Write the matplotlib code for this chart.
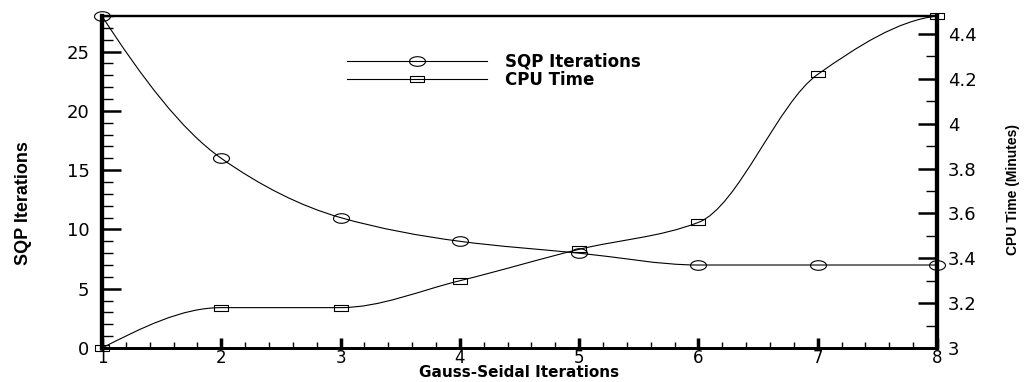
import numpy as np
import matplotlib
matplotlib.use("Agg")
import matplotlib.pyplot as plt
from matplotlib import font_manager
from matplotlib.path import Path
from matplotlib.patches import PathPatch
from matplotlib.lines import Line2D
from matplotlib.ticker import MultipleLocator

plt.rcParams['font.family'] = ['DejaVu Sans']
installed = {f.name for f in font_manager.fontManager.ttflist}
narrow = 'Liberation Sans Narrow' if 'Liberation Sans Narrow' in installed else 'Liberation Sans'

gs_iters = [1, 2, 3, 4, 5, 6, 7, 8]
sqp_iters = [28, 16, 11, 9, 8, 7, 7, 7]
cpu_time = [3.0, 3.18, 3.18, 3.30, 3.44, 3.56, 4.22, 4.48]


def pchip_slopes(x, y):
    h = np.diff(x)
    d = np.diff(y) / h
    m = np.zeros(len(x))
    for k in range(1, len(x) - 1):
        if d[k - 1] * d[k] > 0:
            w1 = 2 * h[k] + h[k - 1]
            w2 = h[k] + 2 * h[k - 1]
            m[k] = (w1 + w2) / (w1 / d[k - 1] + w2 / d[k])

    def edge(h0, h1, d0, d1):
        s = ((2 * h0 + h1) * d0 - h0 * d1) / (h0 + h1)
        if np.sign(s) != np.sign(d0):
            return 0.0
        if np.sign(d0) != np.sign(d1) and abs(s) > abs(3 * d0):
            return 3 * d0
        return s

    m[0] = edge(h[0], h[1], d[0], d[1])
    m[-1] = edge(h[-1], h[-2], d[-1], d[-2])
    return m


def smooth_path(x, y):
    # monotone cubic through the points, as bezier segments
    x = np.asarray(x, float)
    y = np.asarray(y, float)
    m = pchip_slopes(x, y)
    verts = [(x[0], y[0])]
    codes = [Path.MOVETO]
    for i in range(len(x) - 1):
        h = x[i + 1] - x[i]
        verts += [(x[i] + h / 3, y[i] + m[i] * h / 3),
                  (x[i + 1] - h / 3, y[i + 1] - m[i + 1] * h / 3),
                  (x[i + 1], y[i + 1])]
        codes += [Path.CURVE4] * 3
    return Path(verts, codes)


t = np.linspace(0, 2 * np.pi, 40)
ellipse = Path(np.column_stack([np.cos(t), 0.6 * np.sin(t)]), closed=True)
rect = Path([(-1, -0.5), (1, -0.5), (1, 0.5), (-1, 0.5), (-1, -0.5)], closed=True)
circ_ms, sq_ms = 11.5, 9.5

fig = plt.figure(figsize=(10.29, 3.82), dpi=100)
ax = fig.add_axes([0.0991, 0.089, 0.8115, 0.869])
ax2 = ax.twinx()

ax.add_patch(PathPatch(smooth_path(gs_iters, sqp_iters), fc='none', ec='black', lw=0.8))
ax.plot(gs_iters, sqp_iters, ls='none', marker=ellipse, ms=circ_ms, mfc='none',
        mec='black', mew=0.8, clip_on=False, zorder=5)
ax2.add_patch(PathPatch(smooth_path(gs_iters, cpu_time), fc='none', ec='black', lw=0.8))
ax2.plot(gs_iters, cpu_time, ls='none', marker=rect, ms=sq_ms, mfc='none',
         mec='black', mew=0.8, clip_on=False, zorder=5)

ax.set_xlim(1, 8)
ax.set_ylim(0, 28)
ax2.set_ylim(3, 4.48)

ax.xaxis.set_major_locator(MultipleLocator(1))
ax.xaxis.set_minor_locator(MultipleLocator(0.2))
ax.yaxis.set_major_locator(MultipleLocator(5))
ax.yaxis.set_minor_locator(MultipleLocator(1))
ax2.yaxis.set_major_locator(MultipleLocator(0.2))
ax2.yaxis.set_minor_locator(MultipleLocator(0.1))
ax2.yaxis.set_major_formatter(lambda v, p: f'{v:g}')

ax.tick_params(axis='x', which='major', direction='in', length=7, width=2.5, labelsize=12, pad=1)
ax.tick_params(axis='x', which='minor', direction='in', length=4, width=1)
ax.tick_params(axis='y', which='major', direction='in', length=14, width=1.8, labelsize=13, pad=9)
ax.tick_params(axis='y', which='minor', direction='in', length=8, width=1)
ax2.tick_params(axis='y', which='major', direction='in', length=14, width=1.8, labelsize=13, pad=8)
ax2.tick_params(axis='y', which='minor', direction='in', length=8, width=1)

for a in (ax, ax2):
    for side in ('left', 'right'):
        a.spines[side].set_linewidth(3)
    a.spines['bottom'].set_linewidth(2)
    a.spines['top'].set_linewidth(1.6)

ax.set_xlabel('Gauss-Seidal Iterations', fontsize=11, fontweight='bold')
ax.xaxis.set_label_coords(0.5, -0.075)
ax.xaxis.label.set_va('center')

ax.set_ylabel('SQP Iterations', fontsize=13, fontweight='bold', family=[narrow, 'DejaVu Sans'])
ax.yaxis.set_label_coords(-0.094, 0.437)
ax.yaxis.label.set_va('center')

ax2.set_ylabel('CPU Time (Minutes)', fontsize=10, fontweight='bold', family=[narrow, 'DejaVu Sans'])
ax2.yaxis.set_label_coords(1.091, 0.476)
ax2.yaxis.label.set_va('center')

handles = [Line2D([], [], color='black', lw=0.8, marker=ellipse, ms=circ_ms, mfc='none', mew=0.8),
           Line2D([], [], color='black', lw=0.8, marker=rect, ms=sq_ms, mfc='none', mew=0.8)]
ax.legend(handles, ['SQP Iterations', 'CPU Time'], loc='upper left',
          bbox_to_anchor=(0.283, 0.915), frameon=False, handlelength=8.4,
          handletextpad=1.1, labelspacing=0.0, numpoints=1, borderpad=0,
          prop={'weight': 'bold', 'size': 12})

fig.savefig('out.png', dpi=100)
